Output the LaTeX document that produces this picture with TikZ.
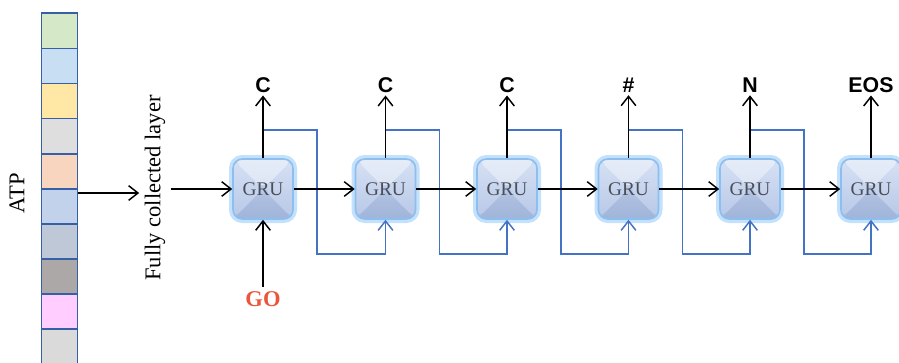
\documentclass[tikz,border=0pt]{standalone}
\usepackage{fontspec}
\setmainfont{Liberation Serif}
\newfontfamily\lblfont{Liberation Sans}
\usetikzlibrary{arrows.meta,calc}
\definecolor{cellborder}{RGB}{55,95,165}
\definecolor{cA}{RGB}{213,232,200}
\definecolor{cB}{RGB}{200,222,242}
\definecolor{cC}{RGB}{255,232,165}
\definecolor{cD}{RGB}{222,222,222}
\definecolor{cE}{RGB}{248,213,190}
\definecolor{cF}{RGB}{195,210,235}
\definecolor{cG}{RGB}{190,200,215}
\definecolor{cH}{RGB}{172,168,168}
\definecolor{cI}{RGB}{255,205,255}
\definecolor{cJ}{RGB}{218,218,218}
\definecolor{linkblue}{RGB}{68,114,196}
\definecolor{glowA}{RGB}{195,225,250}
\definecolor{glowB}{RGB}{140,190,240}
\definecolor{gruTop}{RGB}{205,218,242}
\definecolor{gruBot}{RGB}{165,186,225}
\definecolor{grutext}{RGB}{75,78,88}
\definecolor{gored}{RGB}{235,85,60}
\begin{document}
\begin{tikzpicture}[x=0.75pt,y=-0.75pt,
  cell/.style={draw=cellborder, line width=1.3pt, minimum width=27pt, minimum height=26.3pt, inner sep=0pt, outer sep=0pt},
  gru/.style={rounded corners=7pt, minimum width=45pt, minimum height=45pt, inner sep=0pt,
    draw=glowB, line width=1.2pt, top color=gruTop, bottom color=gruBot,
    preaction={draw=glowA, line width=6pt},
    font=\fontsize{14.5pt}{14.5pt}\selectfont, text=grutext,
    path picture={
      \fill[white, opacity=.5] (path picture bounding box.north west) -- (path picture bounding box.north east) -- (path picture bounding box.center) -- cycle;
      \fill[white, opacity=.2] (path picture bounding box.north west) -- (path picture bounding box.south west) -- (path picture bounding box.center) -- cycle;
      \fill[white, opacity=.2] (path picture bounding box.north east) -- (path picture bounding box.south east) -- (path picture bounding box.center) -- cycle;
      \fill[black, opacity=.03] (path picture bounding box.south west) -- (path picture bounding box.south east) -- (path picture bounding box.center) -- cycle;
    }},
  outlbl/.style={font=\lblfont\bfseries\fontsize{16pt}{16pt}\selectfont, inner sep=2pt},
  blk/.style={draw=black, line width=1.1pt, -{Straight Barb[length=7pt,width=11pt,line width=1.1pt]}},
  blu/.style={draw=linkblue, line width=1.1pt, -{Straight Barb[length=7pt,width=11pt,line width=1.1pt]}},
  bigtxt/.style={font=\fontsize{16.9pt}{16.9pt}\selectfont}
]
\useasboundingbox (0,0) rectangle (899,362);

% ATP column
\foreach \col [count=\i] in {cA,cB,cC,cD,cE,cF,cG,cH,cI,cJ}{
  \node[cell, fill=\col] (c\i) at (59.5, {13.3+35.1*(\i-1)+17.55}) {};
}
\node[bigtxt, rotate=90] (atp) at (17,193) {ATP};
\node[bigtxt, rotate=90, inner sep=4pt] (fcl) at (155,188) {Fully collected layer};

% GRU boxes
\foreach \x [count=\i] in {263,385.5,507,628.5,750,871}{
  \node[gru] (g\i) at (\x,189) {GRU};
}

% output labels
\node[outlbl] (o1) at (263,85) {C};
\node[outlbl] (o2) at (385.5,85) {C};
\node[outlbl] (o3) at (507,85) {C};
\node[outlbl] (o4) at (628.5,85) {\#};
\node[outlbl] (o5) at (750,85) {N};
\node[outlbl] (o6) at (871,85) {EOS};

% GO
\node[bigtxt, font=\bfseries\fontsize{16.9pt}{16.9pt}\selectfont, text=gored, inner sep=3pt] (go) at (263,299) {GO};

% blue recurrent links
\foreach \i/\j in {1/2,2/3,3/4,4/5,5/6}{
  \draw[blu] (g\i |- 0,130) -- ++(54,0) -- ++(0,124) -| (g\j.south);
}

% black arrows
\foreach \i in {1,...,6}{
  \draw[blk] (g\i.north) -- (o\i.south);
}
\foreach \i/\j in {1/2,2/3,3/4,4/5,5/6}{
  \draw[blk] (g\i) -- (g\j);
}
\draw[blk] (go) -- (g1);
\draw[blk] (c6.east |- 0,193) -- (fcl.north |- 0,193);
\draw[blk] (fcl.south |- g1) -- (g1);
\end{tikzpicture}
\end{document}
